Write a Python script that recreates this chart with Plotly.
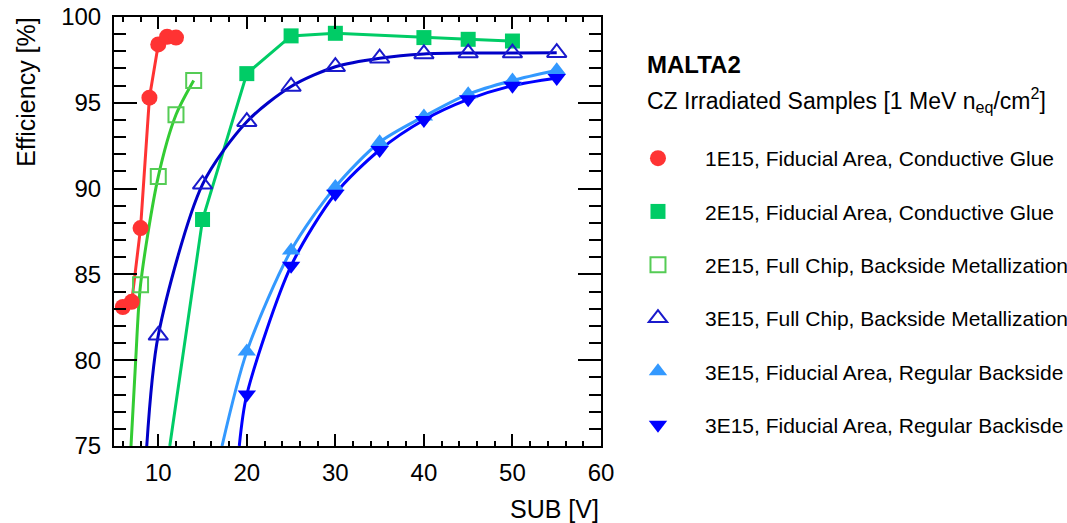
import plotly.graph_objects as go

# ---------------- data ----------------
v_1e15_fid = [6, 7, 8, 9, 10, 11, 12]
eff_1e15_fid = [83.1, 83.4, 87.7, 95.3, 98.4, 98.85, 98.8]

v_2e15_fid = [15, 20, 25, 30, 40, 45, 50]
eff_2e15_fid = [88.2, 96.7, 98.9, 99.05, 98.8, 98.7, 98.6]
fit_v_2e15_fid = [11.3, 15, 20, 25, 30, 40, 45, 50]
fit_eff_2e15_fid = [75.0, 88.2, 96.7, 98.9, 99.05, 98.8, 98.7, 98.6]

v_2e15_full = [8, 10, 12, 14]
eff_2e15_full = [84.4, 90.7, 94.3, 96.3]
fit_v_2e15_full = [6.92, 7.45, 8, 10, 12, 14]
fit_eff_2e15_full = [75.0, 80.0, 84.4, 90.7, 94.3, 96.3]

v_3e15_full = [10, 15, 20, 25, 30, 35, 40, 45, 50, 55]
eff_3e15_full = [81.45, 90.25, 93.9, 95.95, 97.1, 97.6, 97.85, 97.9, 97.9, 97.92]
fit_v_3e15_full = [8.7, 10, 15, 20, 25, 30, 35, 40, 45, 50, 55]
fit_eff_3e15_full = [75.0, 81.45, 90.25, 93.9, 95.95, 97.1, 97.6, 97.85, 97.9, 97.9, 97.92]

v_3e15_reg = [20, 25, 30, 35, 40, 45, 50, 55]
eff_3e15_reg = [80.5, 86.4, 90.1, 92.7, 94.2, 95.5, 96.3, 96.9]
fit_v_3e15_reg = [17.2, 20, 25, 30, 35, 40, 45, 50, 55]
fit_eff_3e15_reg = [75.0, 80.5, 86.4, 90.1, 92.7, 94.2, 95.5, 96.3, 96.9]

v_3e15_reg2 = [20, 25, 30, 35, 40, 45, 50, 55]
eff_3e15_reg2 = [78.0, 85.5, 89.7, 92.25, 94.0, 95.2, 96.0, 96.45]
fit_v_3e15_reg2 = [19.15, 20, 25, 30, 35, 40, 45, 50, 55]
fit_eff_3e15_reg2 = [75.0, 78.0, 85.5, 89.7, 92.25, 94.0, 95.2, 96.0, 96.45]

labels = [
    "1E15, Fiducial Area, Conductive Glue",
    "2E15, Fiducial Area, Conductive Glue",
    "2E15, Full Chip, Backside Metallization",
    "3E15, Full Chip, Backside Metallization",
    "3E15, Fiducial Area, Regular Backside",
    "3E15, Fiducial Area, Regular Backisde",
]

FONT = "Liberation Sans, Arial, Helvetica, sans-serif"

fig = go.Figure()

# ---------------- curves (no legend) ----------------
curves = [
    (v_1e15_fid, eff_1e15_fid, "#ff3333", "linear"),
    (fit_v_2e15_fid, fit_eff_2e15_fid, "#00cc66", "linear"),
    (fit_v_2e15_full, fit_eff_2e15_full, "#33cc33", "spline"),
    (fit_v_3e15_full, fit_eff_3e15_full, "#0000c8", "spline"),
    (fit_v_3e15_reg, fit_eff_3e15_reg, "#3399ff", "spline"),
    (fit_v_3e15_reg2, fit_eff_3e15_reg2, "#0000ff", "spline"),
]
for xs, ys, col, shape in curves:
    fig.add_trace(go.Scatter(x=xs, y=ys, mode="lines", showlegend=False,
                             line=dict(color=col, width=3, shape=shape, smoothing=0.8),
                             hoverinfo="skip"))

# ---------------- markers (legend) ----------------
markers = [
    (v_1e15_fid, eff_1e15_fid, "circle", "#ff3333", 16, None),
    (v_2e15_fid, eff_2e15_fid, "square", "#00cc66", 15, None),
    (v_2e15_full, eff_2e15_full, "square-open", "#55cc55", 15, 2),
    (v_3e15_full, eff_3e15_full, "triangle-up-open", "#1a1acc", 17, 2),
    (v_3e15_reg, eff_3e15_reg, "triangle-up", "#3399ff", 16, None),
    (v_3e15_reg2, eff_3e15_reg2, "triangle-down", "#0000ff", 16, None),
]
for i, (xs, ys, sym, col, sz, lw) in enumerate(markers):
    mk = dict(symbol=sym, color=col, size=sz)
    if lw:
        mk["line"] = dict(color=col, width=lw)
    else:
        mk["line"] = dict(width=0)
    fig.add_trace(go.Scatter(x=xs, y=ys, mode="markers", name=labels[i],
                             legendgroup=f"g{i}", marker=mk, cliponaxis=True))

axis_common = dict(
    showline=True, linecolor="black", linewidth=2, mirror="ticks",
    ticks="inside", tickcolor="black", tickwidth=2,
    showgrid=False, zeroline=False,
    tickfont=dict(family=FONT, size=24, color="black"),
)

fig.update_xaxes(range=[5, 60], tick0=0, dtick=10, ticklen=12,
                 minor=dict(dtick=2, ticklen=5, ticks="inside", tickcolor="black", tickwidth=2),
                 ticklabelstandoff=4, **axis_common)
fig.update_yaxes(range=[75, 100], tick0=75, dtick=5, ticklen=23,
                 minor=dict(dtick=1, ticklen=12, ticks="inside", tickcolor="black", tickwidth=2),
                 ticklabelstandoff=6, **axis_common)

fig.update_layout(
    width=1067, height=523,
    margin=dict(l=114, r=466, t=17, b=77, autoexpand=False),
    paper_bgcolor="white", plot_bgcolor="white",
    font=dict(family=FONT, color="black"),
    legend=dict(x=1.0205, xanchor="left", y=0.718, yanchor="top",
                font=dict(family=FONT, size=21, color="black"),
                itemwidth=84, traceorder="grouped", tracegroupgap=23,
                bgcolor="rgba(0,0,0,0)", itemclick=False),
    annotations=[
        dict(text="Efficiency [%]", xref="paper", yref="paper", x=-0.1807, y=1.005,
             xanchor="center", yanchor="top", textangle=-90, showarrow=False,
             font=dict(family=FONT, size=25, color="black")),
        dict(text="SUB [V]", xref="paper", yref="paper", x=1.0, y=-0.146,
             xanchor="right", yanchor="middle", showarrow=False,
             font=dict(family=FONT, size=25, color="black")),
        dict(text="<b>MALTA2</b>", xref="paper", yref="paper", x=1.0903, y=0.889,
             xanchor="left", yanchor="middle", showarrow=False,
             font=dict(family=FONT, size=24, color="black")),
        dict(text="CZ Irradiated Samples [1 MeV n<sub>eq</sub>/cm<sup>2</sup>]",
             xref="paper", yref="paper", x=1.0903, y=0.807,
             xanchor="left", yanchor="middle", showarrow=False,
             font=dict(family=FONT, size=23, color="black")),
    ],
)

fig.write_html("out.html")
